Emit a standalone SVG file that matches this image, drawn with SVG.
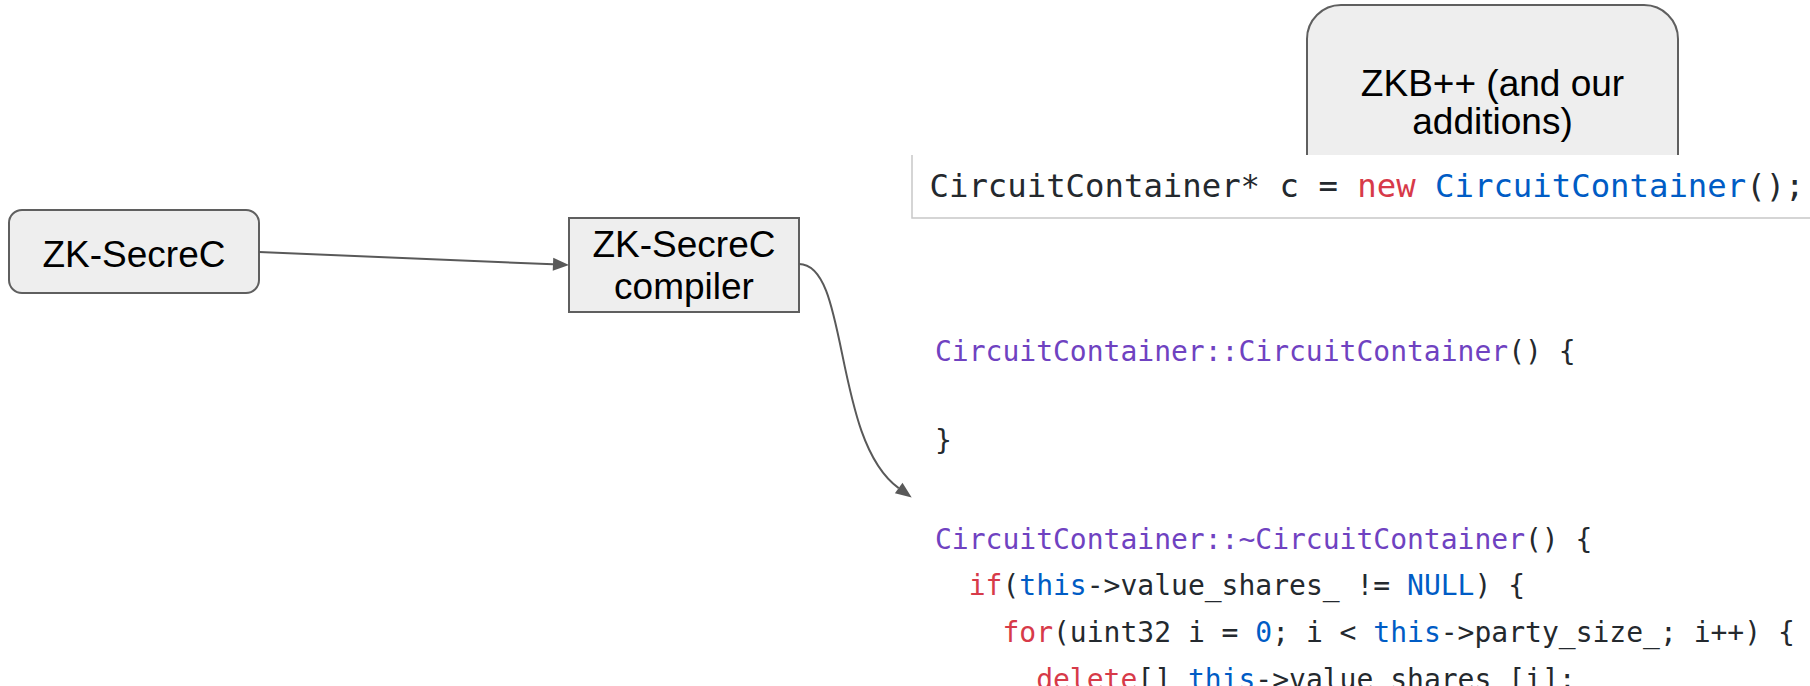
<svg xmlns="http://www.w3.org/2000/svg" width="1810" height="686" viewBox="0 0 1810 686">
  <style>
    .node { fill: #eeeeee; stroke: #5f5f5f; stroke-width: 2; }
    .label { font-family: "Liberation Sans", Arial, sans-serif; font-size: 37px; fill: #000000; text-anchor: middle; }
    .edge { fill: none; stroke: #595959; stroke-width: 2; }
    .code { font-family: "DejaVu Sans Mono", "Liberation Mono", monospace; fill: #24292e; white-space: pre; }
    .kw { fill: #d73a49; }
    .ent { fill: #005cc5; }
    .fn { fill: #6f42c1; }
  </style>
  <defs>
    <marker id="arrow" markerUnits="userSpaceOnUse" markerWidth="16" markerHeight="14" refX="0" refY="6.5" orient="auto" overflow="visible">
      <path d="M0,0 L16,6.5 L0,13 z" fill="#595959"/>
    </marker>
  </defs>
  <rect width="1810" height="686" fill="#ffffff"/>

  <!-- ZKB++ library box (partly covered by the allocation snippet) -->
  <g id="node-zkbpp">
    <rect class="node" x="1307" y="5" width="371" height="200" rx="34" ry="34"/>
    <text class="label" x="1492.5" y="96">ZKB++ (and our</text>
    <text class="label" x="1492.5" y="134">additions)</text>
  </g>

  <!-- allocation snippet panel -->
  <g id="code-alloc">
    <rect x="912" y="155" width="898" height="63" fill="#ffffff"/>
    <path d="M912,155 V218 H1810" fill="none" stroke="#c8c8c8" stroke-width="1.5"/>
    <text class="code" x="929.5" y="197" font-size="32.3">CircuitContainer* c = <tspan class="kw">new</tspan> <tspan class="ent">CircuitContainer</tspan>();</text>
  </g>

  <!-- source language -->
  <g id="node-zksecrec">
    <rect class="node" x="9" y="210" width="250" height="83" rx="13" ry="13"/>
    <text class="label" x="134" y="267">ZK-SecreC</text>
  </g>

  <!-- compiler -->
  <g id="node-compiler">
    <rect class="node" x="569" y="218" width="230" height="94"/>
    <text class="label" x="684" y="257">ZK-SecreC</text>
    <text class="label" x="684" y="299">compiler</text>
  </g>

  <!-- constructor / destructor listing -->
  <g id="code-impl" font-size="28">
    <text class="code" x="935" y="361"><tspan class="fn">CircuitContainer::CircuitContainer</tspan>() {</text>
    <text class="code" x="935" y="450">}</text>
    <text class="code" x="935" y="549"><tspan class="fn">CircuitContainer::~CircuitContainer</tspan>() {</text>
    <text class="code" x="935" y="595">  <tspan class="kw">if</tspan>(<tspan class="ent">this</tspan>-&gt;value_shares_ != <tspan class="ent">NULL</tspan>) {</text>
    <text class="code" x="935" y="642">    <tspan class="kw">for</tspan>(uint32 i = <tspan class="ent">0</tspan>; i &lt; <tspan class="ent">this</tspan>-&gt;party_size_; i++) {</text>
    <text class="code" x="935" y="689">      <tspan class="kw">delete</tspan>[] <tspan class="ent">this</tspan>-&gt;value_shares_[i];</text>
  </g>

  <!-- connectors -->
  <g id="connectors">
    <path class="edge" d="M259,252 L553,264.3" marker-end="url(#arrow)"/>
    <path class="edge" d="M799,264 C850,264 832,440 898.7,488.1" marker-end="url(#arrow)"/>
  </g>
</svg>
